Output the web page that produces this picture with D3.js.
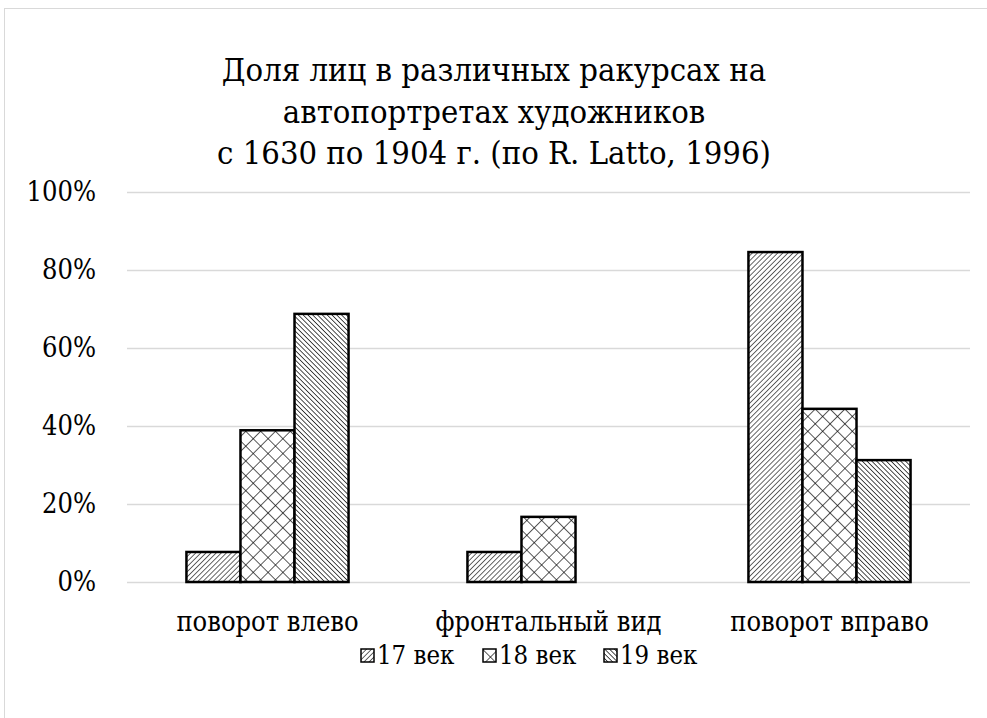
<!doctype html>
<html lang="ru">
<head>
  <meta charset="utf-8">
  <title>Доля лиц в различных ракурсах</title>
  <script src="https://d3js.org/d3.v7.min.js"></script>
  <style>
    body { margin: 0; background: #fff; }
    svg text { font-family: "DejaVu Serif Condensed", "DejaVu Serif"; font-stretch: condensed; fill: #000; }
  </style>
</head>
<body>
<svg id="chart" width="987" height="718"></svg>
<script>
  var categories = ["поворот влево", "фронтальный вид", "поворот вправо"];
  var seriesNames = ["17 век", "18 век", "19 век"];
  var v17 = [7.7, 7.7, 84.6];
  var v18 = [38.9, 16.7, 44.4];
  var v19 = [68.75, 0, 31.25];
  var yTicks = [0, 20, 40, 60, 80, 100];
  var titleLines = ["Доля лиц в различных ракурсах на", "автопортретах художников", "с 1630 по 1904 г. (по R. Latto, 1996)"];

  var series = [v17, v18, v19];
  var svg = d3.select("#chart");
  var width = +svg.attr("width");

  // outer frame
  svg.append("rect")
     .attr("x", 4.5).attr("y", 8.5)
     .attr("width", 990).attr("height", 720)
     .attr("fill", "#fff").attr("stroke", "#d9d9d9");

  // hatch patterns
  var defs = svg.append("defs");
  function hatch(id, size, angle, sw, cross) {
    var p = defs.append("pattern")
       .attr("id", id)
       .attr("patternUnits", "userSpaceOnUse")
       .attr("width", size).attr("height", size)
       .attr("patternTransform", "rotate(" + angle + ")");
    p.append("rect").attr("width", size).attr("height", size).attr("fill", "#fff");
    p.append("line").attr("x1", 0).attr("y1", 0).attr("x2", 0).attr("y2", size)
       .attr("stroke", "#000").attr("stroke-width", sw);
    if (cross) {
      p.append("line").attr("x1", 0).attr("y1", 0).attr("x2", size).attr("y2", 0)
         .attr("stroke", "#000").attr("stroke-width", sw);
    }
  }
  hatch("p17", 3.6, 45, 1.2, false);
  hatch("p18", 10.5, 45, 1.3, true);
  hatch("p19", 3.4, -45, 1.4, false);
  var fills = ["url(#p17)", "url(#p18)", "url(#p19)"];

  var margin = {left: 127, right: 17, top: 192, bottom: 136};
  var plotH = 718 - margin.top - margin.bottom;

  var x0 = d3.scaleBand().domain(categories).range([margin.left, width - margin.right]);
  var x1 = d3.scaleBand().domain(seriesNames).range([0, x0.bandwidth()]).paddingInner(0).paddingOuter(1.1);
  var y = d3.scaleLinear().domain([0, 100]).range([margin.top + plotH, margin.top]);

  // title
  svg.append("g").selectAll("text").data(titleLines).enter().append("text")
     .attr("x", 494)
     .attr("y", function(d, i) { return 81 + i * 41.5; })
     .attr("text-anchor", "middle")
     .attr("font-size", 32.5)
     .text(function(d) { return d; });

  // gridlines
  svg.append("g").selectAll("line").data(yTicks).enter().append("line")
     .attr("x1", margin.left).attr("x2", width - margin.right)
     .attr("y1", function(d) { return Math.round(y(d)) + 0.5; })
     .attr("y2", function(d) { return Math.round(y(d)) + 0.5; })
     .attr("stroke", "#d9d9d9").attr("stroke-width", 1.5);

  // y axis labels
  svg.append("g").selectAll("text").data(yTicks).enter().append("text")
     .attr("x", 96)
     .attr("y", function(d) { return y(d) + 9; })
     .attr("text-anchor", "end")
     .attr("font-size", 27)
     .text(function(d) { return d + "%"; });

  // bars
  var groups = svg.append("g").selectAll("g").data(categories).enter().append("g")
     .attr("transform", function(d) { return "translate(" + x0(d) + ",0)"; });

  groups.selectAll("rect")
     .data(function(d, ci) { return series.map(function(s, si) { return {s: si, v: s[ci]}; }); })
     .enter().filter(function(d) { return d.v > 0; })
     .append("rect")
     .attr("x", function(d) { return x1(seriesNames[d.s]); })
     .attr("y", function(d) { return y(d.v); })
     .attr("width", x1.bandwidth())
     .attr("height", function(d) { return y(0) - y(d.v); })
     .attr("fill", function(d) { return fills[d.s]; })
     .attr("stroke", "#000").attr("stroke-width", 2.5);

  // category labels
  svg.append("g").selectAll("text").data(categories).enter().append("text")
     .attr("x", function(d) { return x0(d) + x0.bandwidth() / 2; })
     .attr("y", 631)
     .attr("text-anchor", "middle")
     .attr("font-size", 27)
     .text(function(d) { return d; });

  // legend
  var legendX = [361, 483, 604];
  var legend = svg.append("g").selectAll("g").data(seriesNames).enter().append("g")
     .attr("transform", function(d, i) { return "translate(" + legendX[i] + ",649)"; });
  legend.append("rect")
     .attr("width", 13).attr("height", 13)
     .attr("fill", function(d, i) { return fills[i]; })
     .attr("stroke", "#000").attr("stroke-width", 1.5);
  legend.append("text")
     .attr("x", 16).attr("y", 15)
     .attr("font-size", 25.5)
     .text(function(d) { return d; });
</script>
</body>
</html>
